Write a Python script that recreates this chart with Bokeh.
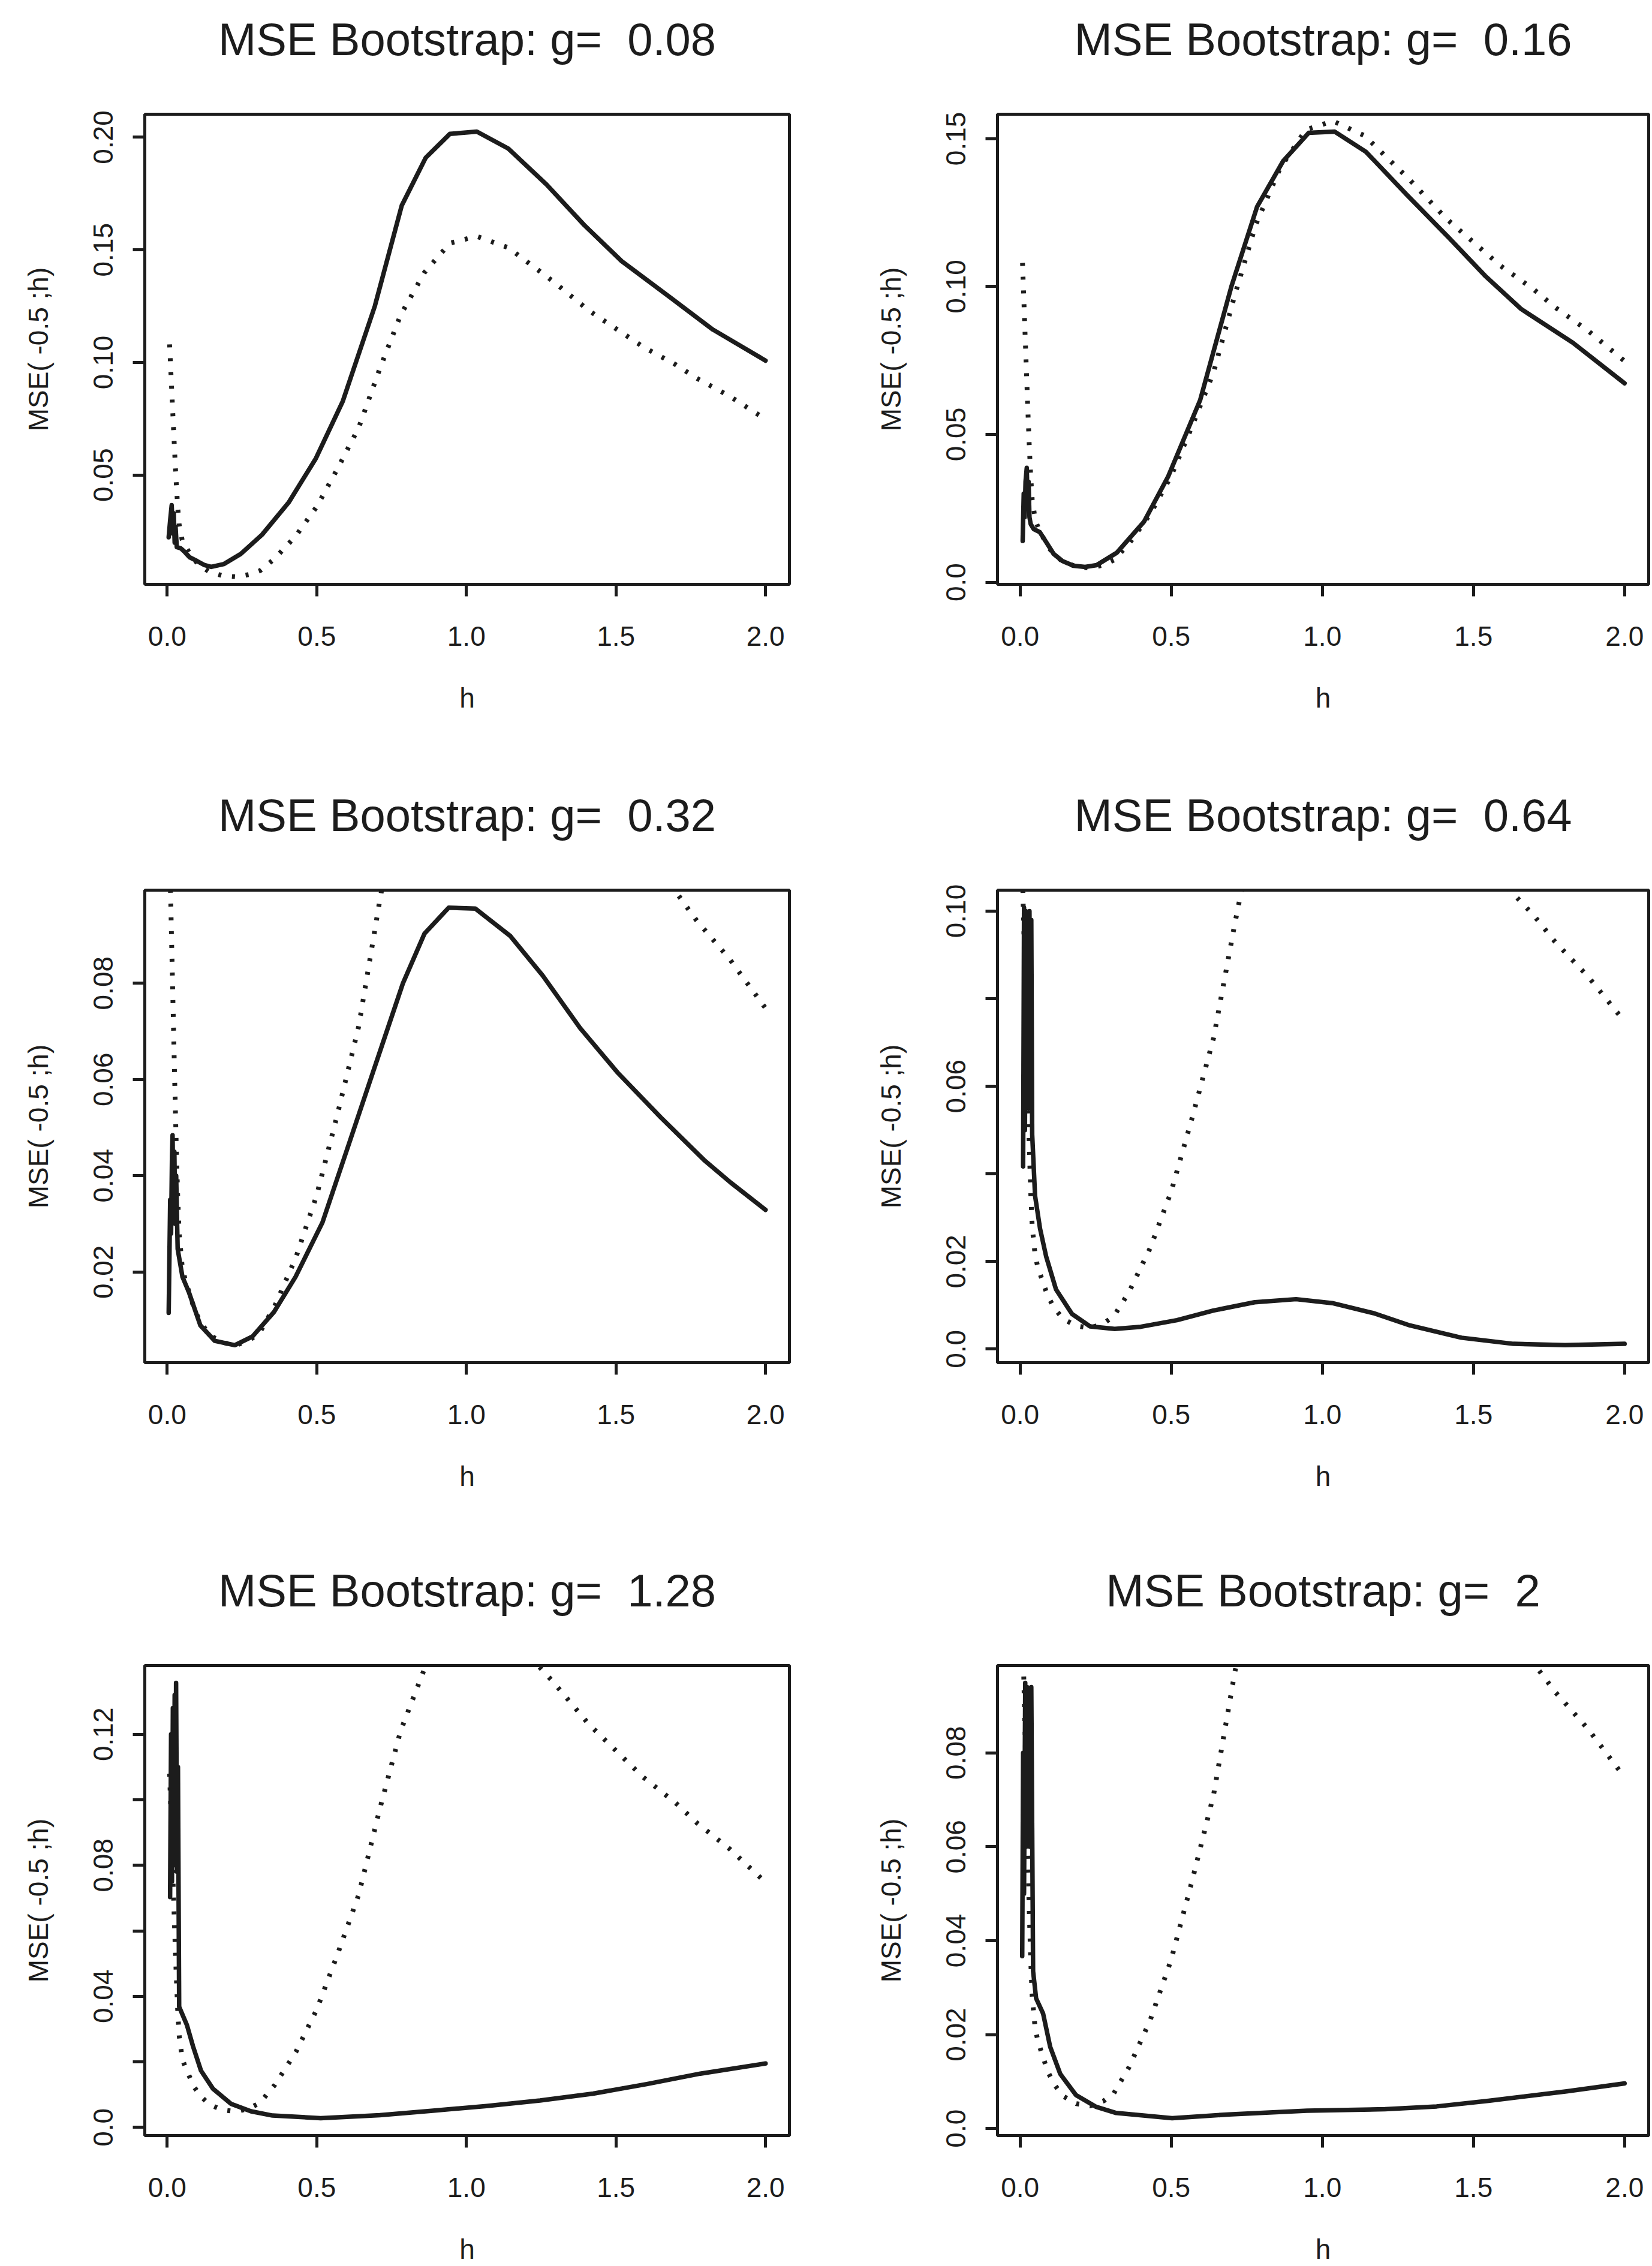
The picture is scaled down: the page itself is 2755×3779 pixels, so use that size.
from bokeh.plotting import figure
from bokeh.layouts import column, row
from bokeh.models import Range1d, FixedTicker, Title
from bokeh.embed import file_html
from bokeh.resources import INLINE

# ---------------- data ----------------
# "true" MSE curve (dotted), same in every panel
h_true = [0.008, 0.015, 0.020, 0.025, 0.030, 0.035, 0.040, 0.050, 0.060, 0.076, 0.091,
          0.112, 0.142, 0.186, 0.231, 0.277, 0.310, 0.360, 0.430, 0.500, 0.570, 0.640,
          0.710, 0.780, 0.860, 0.945, 1.035, 1.140, 1.290, 1.410, 1.590, 1.700, 1.770,
          1.880, 2.000]
mse_true = [0.108, 0.088, 0.074, 0.060, 0.047, 0.036, 0.028, 0.0212, 0.0184, 0.0152, 0.0122,
            0.0095, 0.0069, 0.0053, 0.0048, 0.0059, 0.0075, 0.0130, 0.0230, 0.0360, 0.0530,
            0.0710, 0.0970, 0.1210, 0.1400, 0.1530, 0.1560, 0.1510, 0.1360, 0.1230, 0.1070,
            0.0990, 0.0930, 0.0850, 0.0748]

g_labels = ["0.08", "0.16", "0.32", "0.64", "1.28", "2"]

# bootstrap MSE estimates (solid)
h_g1 = [0.005, 0.010, 0.015, 0.019, 0.022, 0.025, 0.028, 0.032, 0.045, 0.056, 0.075, 0.100,
        0.125, 0.147, 0.190, 0.246, 0.317, 0.407, 0.497, 0.587, 0.694, 0.784, 0.864, 0.945,
        1.035, 1.140, 1.268, 1.394, 1.519, 1.680, 1.824, 2.000]
mse_g1 = [0.0224, 0.0300, 0.0366, 0.0240, 0.0330, 0.0200, 0.0270, 0.0180, 0.0175, 0.0162,
          0.0135, 0.0118, 0.0100, 0.0092, 0.0105, 0.0150, 0.0235, 0.0380, 0.0574, 0.0828,
          0.1250, 0.1697, 0.1909, 0.2015, 0.2025, 0.1950, 0.1790, 0.1610, 0.1450, 0.1290,
          0.1146, 0.1008]

h_g2 = [0.0085, 0.012, 0.015, 0.018, 0.022, 0.025, 0.028, 0.031, 0.035, 0.045, 0.065, 0.090,
        0.111, 0.140, 0.177, 0.215, 0.253, 0.320, 0.410, 0.490, 0.596, 0.699, 0.784, 0.870,
        0.955, 1.041, 1.144, 1.280, 1.418, 1.538, 1.658, 1.829, 2.000]
mse_g2 = [0.0140, 0.0300, 0.0220, 0.0340, 0.0387, 0.0260, 0.0340, 0.0220, 0.0197, 0.0180,
          0.0170, 0.0130, 0.0096, 0.0072, 0.0056, 0.0052, 0.0058, 0.0100, 0.0205, 0.0358,
          0.0617, 0.1000, 0.1270, 0.1424, 0.1520, 0.1524, 0.1456, 0.1310, 0.1166, 0.1037,
          0.0924, 0.0810, 0.0673]

h_g3 = [0.005, 0.010, 0.013, 0.016, 0.018, 0.021, 0.024, 0.027, 0.030, 0.035, 0.051, 0.072,
        0.111, 0.159, 0.226, 0.285, 0.357, 0.429, 0.519, 0.609, 0.698, 0.788, 0.860, 0.941,
        1.030, 1.147, 1.255, 1.380, 1.506, 1.650, 1.794, 1.883, 2.000]
mse_g3 = [0.0115, 0.0350, 0.0280, 0.0440, 0.0484, 0.0320, 0.0450, 0.0300, 0.0400, 0.0248,
          0.0190, 0.0159, 0.0089, 0.0057, 0.0048, 0.0066, 0.0117, 0.0190, 0.0303, 0.0469,
          0.0634, 0.0800, 0.0903, 0.0957, 0.0955, 0.0898, 0.0816, 0.0707, 0.0614, 0.0521,
          0.0433, 0.0386, 0.0329]

h_g4 = [0.010, 0.013, 0.016, 0.019, 0.022, 0.025, 0.028, 0.031, 0.034, 0.037, 0.040, 0.0495,
        0.066, 0.086, 0.119, 0.172, 0.231, 0.313, 0.399, 0.519, 0.639, 0.776, 0.913, 1.033,
        1.170, 1.290, 1.460, 1.632, 1.803, 2.000]
mse_g4 = [0.0417, 0.1008, 0.0500, 0.1000, 0.0600, 0.0990, 0.0550, 0.1000, 0.0650, 0.0980,
          0.0490, 0.0350, 0.0275, 0.0212, 0.0136, 0.0080, 0.0052, 0.0046, 0.0051, 0.0066,
          0.0088, 0.0107, 0.0114, 0.0105, 0.0082, 0.0054, 0.0026, 0.0012, 0.0009, 0.0012]

h_g5 = [0.0097, 0.013, 0.016, 0.019, 0.022, 0.025, 0.028, 0.0297, 0.033, 0.036, 0.040, 0.066,
        0.0865, 0.113, 0.153, 0.213, 0.280, 0.352, 0.513, 0.710, 0.888, 1.067, 1.246, 1.424,
        1.603, 1.782, 2.000]
mse_g5 = [0.0703, 0.1200, 0.0750, 0.1280, 0.0800, 0.1320, 0.0850, 0.1357, 0.0780, 0.1100,
          0.0368, 0.0312, 0.0247, 0.0173, 0.0118, 0.0072, 0.0049, 0.0036, 0.0028, 0.0037,
          0.0051, 0.0065, 0.0082, 0.0103, 0.0132, 0.0164, 0.0195]

h_g6 = [0.007, 0.010, 0.013, 0.017, 0.020, 0.023, 0.026, 0.029, 0.032, 0.035, 0.037, 0.043,
        0.053, 0.076, 0.0995, 0.133, 0.185, 0.252, 0.318, 0.503, 0.692, 0.949, 1.207, 1.378,
        1.550, 1.808, 2.000]
mse_g6 = [0.0367, 0.0800, 0.0500, 0.0949, 0.0600, 0.0940, 0.0650, 0.0930, 0.0600, 0.0920,
          0.0940, 0.0335, 0.0277, 0.0245, 0.0174, 0.0116, 0.0071, 0.0046, 0.0033, 0.0022,
          0.0030, 0.0038, 0.0041, 0.0047, 0.0059, 0.0079, 0.0096]

x_ticks = [0.0, 0.5, 1.0, 1.5, 2.0]
x_tick_labels = ["0.0", "0.5", "1.0", "1.5", "2.0"]

y_ticks = [
    [0.05, 0.10, 0.15, 0.20],
    [0.0, 0.05, 0.10, 0.15],
    [0.02, 0.04, 0.06, 0.08],
    [0.0, 0.02, 0.04, 0.06, 0.08, 0.10],
    [0.0, 0.02, 0.04, 0.06, 0.08, 0.10, 0.12],
    [0.0, 0.02, 0.04, 0.06, 0.08],
]
y_tick_labels = [
    ["0.05", "0.10", "0.15", "0.20"],
    ["0.0", "0.05", "0.10", "0.15"],
    ["0.02", "0.04", "0.06", "0.08"],
    ["0.0", "0.02", "", "0.06", "", "0.10"],
    ["0.0", "", "0.04", "", "0.08", "", "0.12"],
    ["0.0", "0.02", "0.04", "0.06", "0.08"],
]

solid_h = [h_g1, h_g2, h_g3, h_g4, h_g5, h_g6]
solid_mse = [mse_g1, mse_g2, mse_g3, mse_g4, mse_g5, mse_g6]

# ---------------- styling / layout ----------------
INK = "#1c1c1c"
FONT = "Liberation Sans"

col_geom = [  # width, border_left, border_right, title x-offset
    (1400, 241, 84, -8),
    (1355, 263, 6, 0),
]
row_geom = [  # height, border_top, border_bottom
    (1250, 190, 276),
    (1290, 234, 268),
    (1239, 237, 213),
]


def r_range(vals):
    lo, hi = min(vals), max(vals)
    d = (hi - lo) * 0.04
    return lo - d, hi + d


all_h = [v for hs in solid_h for v in hs]
xlo, xhi = r_range(all_h)


def make_panel(i):
    ci, ri = i % 2, i // 2
    w, bl, br, tdx = col_geom[ci]
    hgt, bt, bb = row_geom[ri]
    ylo, yhi = r_range(solid_mse[i])
    p = figure(width=w, height=hgt, output_backend="svg", toolbar_location=None,
               title=None,
               x_range=Range1d(xlo, xhi), y_range=Range1d(ylo, yhi),
               min_border_left=bl, min_border_right=br,
               min_border_top=bt, min_border_bottom=bb,
               background_fill_color="white", border_fill_color="white")
    p.grid.visible = False
    p.outline_line_color = INK
    p.outline_line_width = 5

    # spacer between frame and title, then the title itself
    spacer = Title(text=" ", text_font_size="2px", standoff=79, text_color="white")
    p.add_layout(spacer, "above")
    title = Title(text="MSE Bootstrap: g= \u00a0" + g_labels[i], align="center",
                  offset=tdx, standoff=0, text_font=FONT, text_font_size="76px",
                  text_font_style="normal", text_color=INK)
    p.add_layout(title, "above")

    p.line(h_true, mse_true, line_color=INK, line_width=8, line_dash="5 18")
    p.line(solid_h[i], solid_mse[i], line_color=INK, line_width=7.5,
           line_join="round", line_cap="round")

    xa = p.xaxis[0]
    xa.ticker = FixedTicker(ticks=x_ticks)
    xa.major_label_overrides = dict(zip(x_ticks, x_tick_labels))
    xa.axis_label = "h"
    xa.major_label_standoff = 50
    xa.axis_label_standoff = 58

    ya = p.yaxis[0]
    ya.ticker = FixedTicker(ticks=y_ticks[i])
    ya.major_label_overrides = dict(zip(y_ticks[i], y_tick_labels[i]))
    ya.axis_label = "MSE( -0.5 ;h)"
    ya.major_label_orientation = "vertical"
    ya.major_label_standoff = 33
    ya.axis_label_standoff = 64

    for ax in (xa, ya):
        ax.axis_line_color = None
        ax.major_tick_out = 20
        ax.major_tick_in = 0
        ax.major_tick_line_width = 5
        ax.major_tick_line_color = INK
        ax.minor_tick_line_color = None
        ax.major_label_text_font = FONT
        ax.major_label_text_font_size = "46px"
        ax.major_label_text_color = INK
        ax.axis_label_text_font = FONT
        ax.axis_label_text_font_size = "46px"
        ax.axis_label_text_font_style = "normal"
        ax.axis_label_text_color = INK
    return p


panels = [make_panel(i) for i in range(6)]
layout = column(row(panels[0], panels[1], spacing=0),
                row(panels[2], panels[3], spacing=0),
                row(panels[4], panels[5], spacing=0), spacing=0)

open("out.html", "w").write(file_html(layout, INLINE))
